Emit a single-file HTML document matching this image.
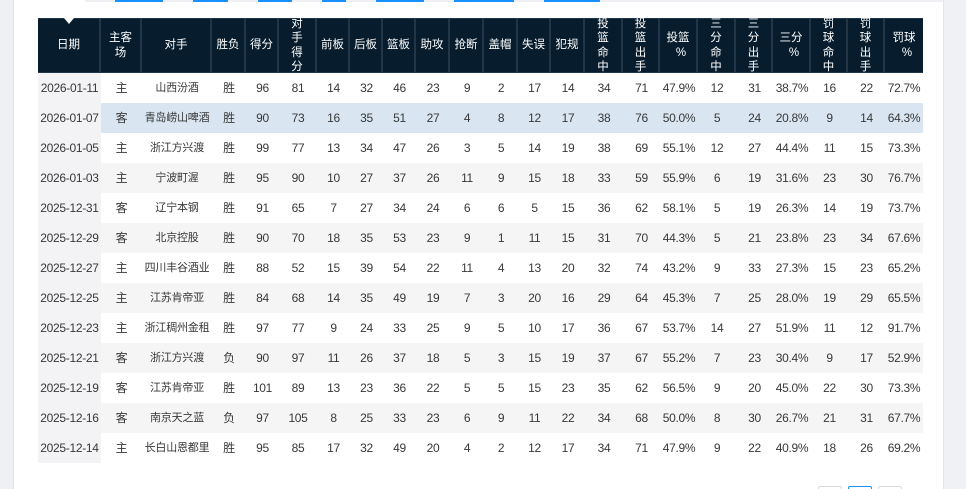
<!DOCTYPE html>
<html><head><meta charset="utf-8">
<style>
*{box-sizing:border-box;margin:0;padding:0}
html,body{width:966px;height:489px;overflow:hidden;background:#fff}
body{position:relative;font-family:"Liberation Sans","Noto Sans CJK SC",sans-serif;color:#383838}
.lg{position:absolute;left:0;top:0;width:14px;height:489px;background:#eff0f4;border-right:1px solid #e1e3e8}
.rg{position:absolute;left:943px;top:0;width:23px;height:489px;background:#eff1f5;border-left:1px solid #e3e5ea}
.ts{position:absolute;left:85px;top:0;width:858px;height:2px;background:#eef0f3}
.bl{position:absolute;top:0;height:2px;background:#1890ff}
.tbl{position:absolute;left:38px;top:18px;width:885px}
.hd{display:flex;height:55px;background:#071c2d;border-top:1px solid #22364a;border-bottom:1px solid #22364a}
.hd>div{flex:none;display:flex;align-items:center;justify-content:center;text-align:center;color:#fff;font-size:11.5px;line-height:14.5px;border-right:2px solid #22364a;white-space:nowrap}
.hd>div>b{display:block;font-weight:normal}
.hd>div:last-child{border-right:none}
.r{display:flex;height:30px;line-height:30px;font-size:12px;letter-spacing:-0.3px}
.r>div{flex:none;text-align:center;white-space:nowrap;overflow:visible}
.r>div:nth-child(1){background:#f3f3f5}
.r>div:nth-child(3){font-size:11px;letter-spacing:-0.2px}
.g{background:#f5f5f5}
.h{background:#d9e6f2}
.hd>div:nth-child(1),.r>div:nth-child(1){width:63px}
.hd>div:nth-child(2),.r>div:nth-child(2){width:41px}
.hd>div:nth-child(3),.r>div:nth-child(3){width:70px}
.hd>div:nth-child(4),.r>div:nth-child(4){width:34px}
.hd>div:nth-child(5),.r>div:nth-child(5){width:33px}
.hd>div:nth-child(6),.r>div:nth-child(6){width:38px}
.hd>div:nth-child(7),.r>div:nth-child(7){width:33px}
.hd>div:nth-child(8),.r>div:nth-child(8){width:33px}
.hd>div:nth-child(9),.r>div:nth-child(9){width:33px}
.hd>div:nth-child(10),.r>div:nth-child(10){width:34px}
.hd>div:nth-child(11),.r>div:nth-child(11){width:34px}
.hd>div:nth-child(12),.r>div:nth-child(12){width:34px}
.hd>div:nth-child(13),.r>div:nth-child(13){width:33px}
.hd>div:nth-child(14),.r>div:nth-child(14){width:34px}
.hd>div:nth-child(15),.r>div:nth-child(15){width:38px}
.hd>div:nth-child(16),.r>div:nth-child(16){width:37px}
.hd>div:nth-child(17),.r>div:nth-child(17){width:38px}
.hd>div:nth-child(18),.r>div:nth-child(18){width:38px}
.hd>div:nth-child(19),.r>div:nth-child(19){width:37px}
.hd>div:nth-child(20),.r>div:nth-child(20){width:38px}
.hd>div:nth-child(21),.r>div:nth-child(21){width:37px}
.hd>div:nth-child(22),.r>div:nth-child(22){width:37px}
.hd>div:nth-child(23),.r>div:nth-child(23){width:38px}
.tri{position:absolute;left:64px;top:18px;width:0;height:0;border-left:5px solid transparent;border-right:5px solid transparent;border-top:6px solid #fff}
.pct{position:relative;left:3px}
.pg{position:absolute;top:486px;width:24px;height:10px;border:1px solid #d9d9d9;border-radius:2px;background:#fff}
</style></head><body>
<div class="lg"></div>
<div class="rg"></div>
<div class="ts"></div>
<div class="bl" style="left:115px;width:48px"></div>
<div class="bl" style="left:193px;width:35px"></div>
<div class="bl" style="left:258px;width:34px"></div>
<div class="bl" style="left:322px;width:24px"></div>
<div class="bl" style="left:376px;width:48px"></div>
<div class="bl" style="left:454px;width:60px"></div>
<div class="bl" style="left:544px;width:56px"></div>

<div class="tbl">
<div class="hd">
<div><b>日期</b></div><div><b>主客<br>场</b></div><div><b>对手</b></div><div><b>胜负</b></div><div><b>得分</b></div><div><b>对<br>手<br>得<br>分</b></div><div><b>前板</b></div><div><b>后板</b></div><div><b>篮板</b></div><div><b>助攻</b></div><div><b>抢断</b></div><div><b>盖帽</b></div><div><b>失误</b></div><div><b>犯规</b></div><div><b>投<br>篮<br>命<br>中</b></div><div><b>投<br>篮<br>出<br>手</b></div><div><b>投篮<br><span class="pct">%</span></b></div><div><b>三<br>分<br>命<br>中</b></div><div><b>三<br>分<br>出<br>手</b></div><div><b>三分<br><span class="pct">%</span></b></div><div><b>罚<br>球<br>命<br>中</b></div><div><b>罚<br>球<br>出<br>手</b></div><div><b>罚球<br><span class="pct">%</span></b></div>
</div>
<div class="r"><div>2026-01-11</div><div>主</div><div>山西汾酒</div><div>胜</div><div>96</div><div>81</div><div>14</div><div>32</div><div>46</div><div>23</div><div>9</div><div>2</div><div>17</div><div>14</div><div>34</div><div>71</div><div>47.9%</div><div>12</div><div>31</div><div>38.7%</div><div>16</div><div>22</div><div>72.7%</div></div>
<div class="r h"><div>2026-01-07</div><div>客</div><div>青岛崂山啤酒</div><div>胜</div><div>90</div><div>73</div><div>16</div><div>35</div><div>51</div><div>27</div><div>4</div><div>8</div><div>12</div><div>17</div><div>38</div><div>76</div><div>50.0%</div><div>5</div><div>24</div><div>20.8%</div><div>9</div><div>14</div><div>64.3%</div></div>
<div class="r"><div>2026-01-05</div><div>主</div><div>浙江方兴渡</div><div>胜</div><div>99</div><div>77</div><div>13</div><div>34</div><div>47</div><div>26</div><div>3</div><div>5</div><div>14</div><div>19</div><div>38</div><div>69</div><div>55.1%</div><div>12</div><div>27</div><div>44.4%</div><div>11</div><div>15</div><div>73.3%</div></div>
<div class="r g"><div>2026-01-03</div><div>主</div><div>宁波町渥</div><div>胜</div><div>95</div><div>90</div><div>10</div><div>27</div><div>37</div><div>26</div><div>11</div><div>9</div><div>15</div><div>18</div><div>33</div><div>59</div><div>55.9%</div><div>6</div><div>19</div><div>31.6%</div><div>23</div><div>30</div><div>76.7%</div></div>
<div class="r"><div>2025-12-31</div><div>客</div><div>辽宁本钢</div><div>胜</div><div>91</div><div>65</div><div>7</div><div>27</div><div>34</div><div>24</div><div>6</div><div>6</div><div>5</div><div>15</div><div>36</div><div>62</div><div>58.1%</div><div>5</div><div>19</div><div>26.3%</div><div>14</div><div>19</div><div>73.7%</div></div>
<div class="r g"><div>2025-12-29</div><div>客</div><div>北京控股</div><div>胜</div><div>90</div><div>70</div><div>18</div><div>35</div><div>53</div><div>23</div><div>9</div><div>1</div><div>11</div><div>15</div><div>31</div><div>70</div><div>44.3%</div><div>5</div><div>21</div><div>23.8%</div><div>23</div><div>34</div><div>67.6%</div></div>
<div class="r"><div>2025-12-27</div><div>主</div><div>四川丰谷酒业</div><div>胜</div><div>88</div><div>52</div><div>15</div><div>39</div><div>54</div><div>22</div><div>11</div><div>4</div><div>13</div><div>20</div><div>32</div><div>74</div><div>43.2%</div><div>9</div><div>33</div><div>27.3%</div><div>15</div><div>23</div><div>65.2%</div></div>
<div class="r g"><div>2025-12-25</div><div>主</div><div>江苏肯帝亚</div><div>胜</div><div>84</div><div>68</div><div>14</div><div>35</div><div>49</div><div>19</div><div>7</div><div>3</div><div>20</div><div>16</div><div>29</div><div>64</div><div>45.3%</div><div>7</div><div>25</div><div>28.0%</div><div>19</div><div>29</div><div>65.5%</div></div>
<div class="r"><div>2025-12-23</div><div>主</div><div>浙江稠州金租</div><div>胜</div><div>97</div><div>77</div><div>9</div><div>24</div><div>33</div><div>25</div><div>9</div><div>5</div><div>10</div><div>17</div><div>36</div><div>67</div><div>53.7%</div><div>14</div><div>27</div><div>51.9%</div><div>11</div><div>12</div><div>91.7%</div></div>
<div class="r g"><div>2025-12-21</div><div>客</div><div>浙江方兴渡</div><div>负</div><div>90</div><div>97</div><div>11</div><div>26</div><div>37</div><div>18</div><div>5</div><div>3</div><div>15</div><div>19</div><div>37</div><div>67</div><div>55.2%</div><div>7</div><div>23</div><div>30.4%</div><div>9</div><div>17</div><div>52.9%</div></div>
<div class="r"><div>2025-12-19</div><div>客</div><div>江苏肯帝亚</div><div>胜</div><div>101</div><div>89</div><div>13</div><div>23</div><div>36</div><div>22</div><div>5</div><div>5</div><div>15</div><div>23</div><div>35</div><div>62</div><div>56.5%</div><div>9</div><div>20</div><div>45.0%</div><div>22</div><div>30</div><div>73.3%</div></div>
<div class="r g"><div>2025-12-16</div><div>客</div><div>南京天之蓝</div><div>负</div><div>97</div><div>105</div><div>8</div><div>25</div><div>33</div><div>23</div><div>6</div><div>9</div><div>11</div><div>22</div><div>34</div><div>68</div><div>50.0%</div><div>8</div><div>30</div><div>26.7%</div><div>21</div><div>31</div><div>67.7%</div></div>
<div class="r"><div>2025-12-14</div><div>主</div><div>长白山恩都里</div><div>胜</div><div>95</div><div>85</div><div>17</div><div>32</div><div>49</div><div>20</div><div>4</div><div>2</div><div>12</div><div>17</div><div>34</div><div>71</div><div>47.9%</div><div>9</div><div>22</div><div>40.9%</div><div>18</div><div>26</div><div>69.2%</div></div>
</div>
<div class="tri"></div>
<div class="pg" style="left:818px"></div>
<div class="pg" style="left:848px;border-color:#1890ff"></div>
<div class="pg" style="left:878px"></div>
</body></html>
